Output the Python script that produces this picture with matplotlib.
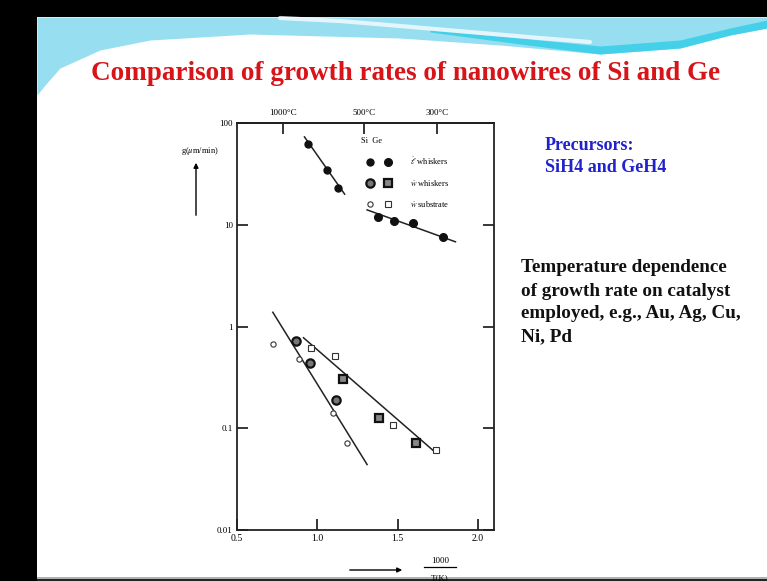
import numpy as np
import matplotlib
matplotlib.use('Agg')
import matplotlib.pyplot as plt
from matplotlib.lines import Line2D
from matplotlib.legend_handler import HandlerTuple
from matplotlib.ticker import FixedLocator, FixedFormatter, NullLocator

plt.rcParams['font.family'] = ['Liberation Serif', 'DejaVu Serif']
plt.rcParams['mathtext.fontset'] = 'stix'

# ---- data (x = 1000/T(K), y = growth rate um/min)
si_l_x = [0.944, 1.06, 1.13]
si_l_y = [62, 34.6, 23]
ge_l_x = [1.375, 1.475, 1.594, 1.78]
ge_l_y = [12, 10.9, 10.5, 7.6]

si_ww_x = [0.869, 0.952, 1.119]
si_ww_y = [0.72, 0.44, 0.188]
ge_ww_x = [1.16, 1.383, 1.613]
ge_ww_y = [0.307, 0.127, 0.071]

si_ws_x = [0.723, 0.883, 1.096, 1.185]
si_ws_y = [0.676, 0.48, 0.14, 0.071]
ge_ws_x = [0.96, 1.112, 1.473, 1.738]
ge_ws_y = [0.62, 0.51, 0.108, 0.061]

# fitted lines (end points)
fit_si_l = ([0.92, 1.17], [73, 20])
fit_ge_l = ([1.31, 1.86], [14, 6.8])
fit_si_low = ([0.723, 1.31], [1.38, 0.044])
fit_ge_low = ([0.914, 1.74], [0.775, 0.057])

x_ticks = [0.5, 1.0, 1.5, 2.0]
x_labels = ['0.5', '1.0', '1.5', '2.0']
y_ticks = [0.01, 0.1, 1, 10, 100]
y_labels = ['0.01', '0.1', '1', '10', '100']
temps_c = [1000, 500, 300]
temp_labels = ['1000°C', '500°C', '300°C']

W, H = 767, 581
fig = plt.figure(figsize=(W / 100, H / 100), dpi=100)

# ---- slide background, drawn in pixel coordinates
bg = fig.add_axes([0, 0, 1, 1], zorder=0)
bg.set_xlim(0, W)
bg.set_ylim(H, 0)
bg.axis('off')

bx = np.array([37, 45, 60, 100, 150, 250, 400, 500, 600, 680, 730, 767])
by = np.array([95, 85, 68, 50, 40, 34, 38, 45, 54, 48, 35, 28])
bg.fill_between(bx, 17, by, color='#96def0', lw=0)
# brighter swoosh on the right
rx = np.array([430, 520, 600, 680, 730, 767])
ry1 = np.array([30, 38, 46, 40, 28, 20])
ry2 = np.array([32, 44, 54, 48, 35, 28])
bg.fill_between(rx, ry1, ry2, color='#45d0ea', lw=0)
# soft white streaks
bg.plot([280, 340, 400, 470, 540, 590], [18, 21, 26, 32, 38, 42],
        color='white', lw=3, alpha=0.75, solid_capstyle='round')
bg.plot([60, 120, 200, 300, 420], [72, 55, 44, 40, 42], color='white',
        lw=3, alpha=0.7, solid_capstyle='round')

bg.fill_between([0, 37], 0, H, color='black', lw=0)
bg.fill_between([0, W], 0, 17, color='black', lw=0)

# titles and side texts
bg.text(406, 73, 'Comparison of growth rates of nanowires of Si and Ge',
        color='#d81418', fontsize=19.5, fontweight='bold', ha='center', va='center')
bg.text(545, 145, 'Precursors:', color='#2222cc', fontsize=13,
        fontweight='bold', va='center')
bg.text(545, 168, 'SiH4 and GeH4', color='#2222cc', fontsize=13,
        fontweight='bold', va='center')
side = ['Temperature dependence', 'of growth rate on catalyst',
        'employed, e.g., Au, Ag, Cu,', 'Ni, Pd']
for i, s in enumerate(side):
    bg.text(521, 268 + 23 * i, s, color='#111111', fontsize=13.8,
            fontweight='bold', va='center')

# axis label and arrows
bg.text(200, 151, r'g($\mu$m/min)', fontsize=6, ha='center', va='center')
bg.annotate('', xy=(196, 160), xytext=(196, 218),
            arrowprops=dict(arrowstyle='-|>', color='black', lw=1.0,
                            mutation_scale=7))
bg.annotate('', xy=(405, 570), xytext=(347, 570),
            arrowprops=dict(arrowstyle='-|>', color='black', lw=1.0,
                            mutation_scale=7))
bg.text(440, 561, '1000', fontsize=6.5, ha='center', va='center')
bg.plot([424, 456], [567, 567], color='black', lw=0.9)
bg.text(440, 574, 'T(K)', fontsize=6.5, ha='center', va='top')
bg.fill_between([37, W], 577, 578.5, color='#b0b0b0', lw=0)
bg.fill_between([37, W], 578.5, H, color='#222222', lw=0)

# ---- the chart itself
ax = fig.add_axes([237 / W, 1 - 530 / H, 257 / W, 407 / H], zorder=1)
ax.patch.set_visible(False)
ax.set_yscale('log')
ax.set_xlim(0.5, 2.1)
ax.set_ylim(0.01, 100)

for xs, ys in (fit_si_l, fit_ge_l, fit_si_low, fit_ge_low):
    ax.plot(xs, ys, color='#222222', lw=1.1)

ms = dict(linestyle='none', zorder=3)
h_si_l, = ax.plot(si_l_x, si_l_y, marker='o', ms=5, mfc='#111111', mec='#111111', **ms)
h_ge_l, = ax.plot(ge_l_x, ge_l_y, marker='o', ms=5.5, mfc='#111111', mec='#111111', **ms)
h_si_ww, = ax.plot(si_ww_x, si_ww_y, marker='o', ms=6, mfc='#777777', mec='#111111', mew=1.6, **ms)
h_ge_ww, = ax.plot(ge_ww_x, ge_ww_y, marker='s', ms=6, mfc='#888888', mec='#111111', mew=1.6, **ms)
h_si_ws, = ax.plot(si_ws_x, si_ws_y, marker='o', ms=3.8, mfc='white', mec='#333333', mew=0.8, **ms)
h_ge_ws, = ax.plot(ge_ws_x, ge_ws_y, marker='s', ms=4.2, mfc='white', mec='#333333', mew=0.8, **ms)

leg = ax.legend([(h_si_l, h_ge_l), (h_si_ww, h_ge_ww), (h_si_ws, h_ge_ws)],
                [r'$\dot{\ell}$ whiskers', r'$\dot{w}$ whiskers', r'$\dot{w}$ substrate'],
                handler_map={tuple: HandlerTuple(ndivide=None, pad=0.0)},
                title='Si  Ge', alignment='left', frameon=False, fontsize=6,
                title_fontsize=6, handlelength=4.3, handletextpad=1.6,
                labelspacing=1.3, loc='upper left',
                bbox_to_anchor=(0.47, 0.975), borderaxespad=0)

for sp in ax.spines.values():
    sp.set_linewidth(1.3)
    sp.set_color('#222222')

ax.xaxis.set_major_locator(FixedLocator(x_ticks))
ax.xaxis.set_major_formatter(FixedFormatter(x_labels))
ax.yaxis.set_major_locator(FixedLocator(y_ticks))
ax.yaxis.set_major_formatter(FixedFormatter(y_labels))
ax.yaxis.set_minor_locator(NullLocator())
ax.tick_params(axis='both', which='major', direction='in', length=8,
               width=1.1, labelsize=6.5, pad=3, right=True, top=False)
ax.tick_params(axis='x', labelsize=7)

sec = ax.secondary_xaxis('top')
sec.set_xticks([1000 / (t + 273) for t in temps_c])
sec.set_xticklabels(temp_labels)
sec.tick_params(direction='in', length=8, width=1.1, labelsize=6.5, pad=4)
sec.spines['top'].set_linewidth(1.3)

fig.savefig('out.png', dpi=100)
